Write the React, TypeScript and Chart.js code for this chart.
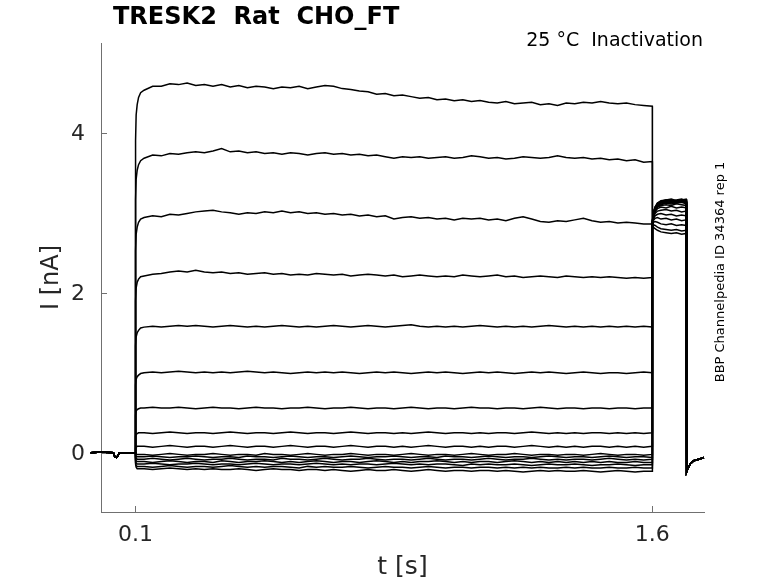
import { useEffect, useRef } from "react";
import { Chart, registerables } from "chart.js";

Chart.register(...registerables);

// holding potential, same for every sweep
const holdTimes = [-0.03, 0.0, 0.036, 0.04, 0.045, 0.05, 0.053, 0.1];
const holdCurrent = [0.0, 0.01, 0.0, -0.05, -0.06, -0.03, 0.0, 0.0];

// conditioning pulse
const pulseTimes = [
  0.1003, 0.102, 0.105, 0.109, 0.115,
  0.125, 0.15, 0.175, 0.2, 0.225, 0.25, 0.275, 0.3, 0.325, 0.35,
  0.375, 0.4, 0.425, 0.45, 0.475, 0.5, 0.525, 0.55, 0.575, 0.6,
  0.625, 0.65, 0.675, 0.7, 0.725, 0.75, 0.775, 0.8, 0.825, 0.85,
  0.875, 0.9, 0.925, 0.95, 0.975, 1.0, 1.025, 1.05, 1.075, 1.1,
  1.125, 1.15, 1.175, 1.2, 1.225, 1.25, 1.275, 1.3, 1.325, 1.35,
  1.375, 1.4, 1.425, 1.45, 1.475, 1.5, 1.525, 1.55, 1.575, 1.6,
];

const pulseCurrents = [
  [3.90, 4.22, 4.35, 4.44, 4.50,
    4.53, 4.58, 4.58, 4.61, 4.60, 4.62, 4.59, 4.60, 4.58, 4.60,
    4.57, 4.59, 4.56, 4.58, 4.57, 4.55, 4.57, 4.56, 4.58, 4.55,
    4.57, 4.59, 4.58, 4.55, 4.54, 4.52, 4.51, 4.48, 4.49, 4.46,
    4.47, 4.45, 4.43, 4.44, 4.41, 4.42, 4.40, 4.41, 4.39, 4.40,
    4.38, 4.37, 4.39, 4.36, 4.37, 4.38, 4.35, 4.36, 4.34, 4.37,
    4.36, 4.38, 4.37, 4.39, 4.37, 4.36, 4.37, 4.35, 4.34, 4.33],
  [3.16, 3.42, 3.53, 3.60, 3.65,
    3.68, 3.72, 3.71, 3.74, 3.73, 3.75, 3.76, 3.75, 3.77, 3.80,
    3.76, 3.77, 3.75, 3.76, 3.74, 3.75, 3.73, 3.75, 3.74, 3.72,
    3.74, 3.75, 3.73, 3.74, 3.72, 3.73, 3.71, 3.72, 3.70, 3.68,
    3.70, 3.69, 3.70, 3.68, 3.69, 3.70, 3.68, 3.69, 3.71, 3.70,
    3.68, 3.69, 3.67, 3.68, 3.70, 3.69, 3.68, 3.69, 3.71, 3.69,
    3.68, 3.69, 3.67, 3.68, 3.66, 3.67, 3.65, 3.66, 3.63, 3.64],
  [2.52, 2.73, 2.82, 2.88, 2.92,
    2.94, 2.96, 2.95, 2.98, 2.97, 2.99, 3.01, 3.02, 3.03, 3.01,
    3.00, 2.98, 3.00, 2.99, 3.01, 3.00, 3.02, 3.00, 3.01, 2.99,
    3.00, 2.98, 2.99, 2.97, 2.98, 2.96, 2.97, 2.95, 2.96, 2.92,
    2.94, 2.95, 2.93, 2.94, 2.92, 2.93, 2.91, 2.93, 2.92, 2.93,
    2.91, 2.92, 2.90, 2.93, 2.95, 2.92, 2.89, 2.88, 2.90, 2.89,
    2.91, 2.93, 2.90, 2.88, 2.89, 2.87, 2.88, 2.87, 2.86, 2.86],
  [1.90, 2.06, 2.13, 2.17, 2.20,
    2.21, 2.23, 2.24, 2.26, 2.27, 2.26, 2.28, 2.26, 2.25, 2.26,
    2.24, 2.25, 2.23, 2.24, 2.25, 2.23, 2.24, 2.22, 2.23, 2.22,
    2.24, 2.23, 2.22, 2.23, 2.21, 2.22, 2.23, 2.22, 2.21, 2.22,
    2.20, 2.21, 2.22, 2.21, 2.20, 2.21, 2.20, 2.22, 2.21, 2.20,
    2.21, 2.22, 2.20, 2.21, 2.19, 2.20, 2.21, 2.20, 2.19, 2.21,
    2.20, 2.19, 2.20, 2.19, 2.20, 2.19, 2.18, 2.19, 2.18, 2.19],
  [1.34, 1.45, 1.50, 1.53, 1.56,
    1.57, 1.58, 1.57, 1.58, 1.59, 1.58, 1.59, 1.58, 1.57, 1.58,
    1.59, 1.58, 1.57, 1.58, 1.57, 1.58, 1.59, 1.58, 1.57, 1.58,
    1.57, 1.58, 1.59, 1.58, 1.57, 1.58, 1.59, 1.58, 1.57, 1.58,
    1.59, 1.60, 1.58, 1.57, 1.58, 1.57, 1.58, 1.57, 1.58, 1.59,
    1.58, 1.57, 1.58, 1.57, 1.58, 1.57, 1.58, 1.59, 1.58, 1.57,
    1.58, 1.57, 1.58, 1.57, 1.58, 1.57, 1.58, 1.57, 1.58, 1.57],
  [0.85, 0.92, 0.95, 0.97, 0.99,
    1.00, 1.01, 1.00, 1.01, 1.02, 1.01, 1.00, 1.01, 1.00, 1.01,
    1.00, 1.01, 1.02, 1.01, 1.00, 1.01, 1.00, 0.99, 1.00, 1.01,
    1.00, 1.01, 1.00, 1.01, 1.00, 0.99, 1.00, 1.01, 1.00, 1.01,
    1.00, 0.99, 1.00, 1.01, 1.00, 1.01, 1.00, 0.99, 1.00, 1.01,
    1.00, 1.01, 1.00, 0.99, 1.00, 1.01, 1.00, 1.01, 1.00, 0.99,
    1.00, 1.01, 1.00, 0.99, 1.00, 1.00, 0.99, 1.00, 1.01, 1.00],
  [0.47, 0.52, 0.54, 0.55, 0.56,
    0.56, 0.57, 0.56, 0.56, 0.57, 0.56, 0.55, 0.56, 0.57, 0.56,
    0.56, 0.55, 0.56, 0.57, 0.56, 0.56, 0.55, 0.56, 0.56, 0.57,
    0.56, 0.55, 0.56, 0.56, 0.57, 0.56, 0.55, 0.56, 0.56, 0.55,
    0.56, 0.57, 0.56, 0.55, 0.56, 0.56, 0.55, 0.56, 0.57, 0.56,
    0.56, 0.55, 0.56, 0.56, 0.55, 0.56, 0.57, 0.56, 0.55, 0.56,
    0.56, 0.55, 0.56, 0.56, 0.55, 0.56, 0.56, 0.55, 0.56, 0.56],
  [0.21, 0.23, 0.24, 0.25, 0.25,
    0.25, 0.24, 0.25, 0.26, 0.25, 0.24, 0.25, 0.25, 0.24, 0.25,
    0.26, 0.25, 0.24, 0.25, 0.25, 0.24, 0.25, 0.26, 0.25, 0.24,
    0.25, 0.25, 0.24, 0.25, 0.26, 0.25, 0.24, 0.25, 0.25, 0.24,
    0.25, 0.24, 0.25, 0.26, 0.25, 0.24, 0.25, 0.25, 0.24, 0.25,
    0.24, 0.25, 0.25, 0.24, 0.25, 0.26, 0.25, 0.24, 0.25, 0.24,
    0.25, 0.24, 0.25, 0.25, 0.24, 0.25, 0.24, 0.25, 0.24, 0.25],
  [0.06, 0.07, 0.08, 0.08, 0.08,
    0.08, 0.07, 0.08, 0.09, 0.08, 0.07, 0.08, 0.08, 0.07, 0.08,
    0.09, 0.08, 0.07, 0.08, 0.08, 0.07, 0.08, 0.09, 0.08, 0.07,
    0.08, 0.08, 0.07, 0.08, 0.09, 0.08, 0.07, 0.08, 0.08, 0.07,
    0.08, 0.07, 0.08, 0.09, 0.08, 0.07, 0.08, 0.08, 0.07, 0.08,
    0.07, 0.08, 0.08, 0.07, 0.08, 0.09, 0.08, 0.07, 0.08, 0.07,
    0.08, 0.07, 0.08, 0.08, 0.07, 0.08, 0.07, 0.08, 0.07, 0.08],
  [-0.01, -0.02, -0.02, -0.02, -0.02,
    -0.02, -0.03, -0.02, -0.01, -0.02, -0.03, -0.02, -0.02, -0.01, -0.02,
    -0.03, -0.02, -0.02, -0.03, -0.01, -0.02, -0.02, -0.03, -0.02, -0.01,
    -0.02, -0.03, -0.02, -0.02, -0.01, -0.02, -0.03, -0.02, -0.02, -0.03,
    -0.02, -0.01, -0.02, -0.03, -0.02, -0.02, -0.03, -0.02, -0.01, -0.02,
    -0.03, -0.02, -0.02, -0.01, -0.02, -0.03, -0.02, -0.02, -0.03, -0.02,
    -0.02, -0.03, -0.02, -0.01, -0.02, -0.03, -0.02, -0.02, -0.03, -0.02],
  [-0.04, -0.05, -0.05, -0.05, -0.05,
    -0.05, -0.04, -0.05, -0.06, -0.05, -0.05, -0.04, -0.05, -0.06, -0.05,
    -0.05, -0.06, -0.04, -0.05, -0.05, -0.06, -0.05, -0.04, -0.05, -0.06,
    -0.05, -0.05, -0.06, -0.05, -0.04, -0.05, -0.06, -0.05, -0.05, -0.04,
    -0.05, -0.06, -0.05, -0.05, -0.06, -0.04, -0.05, -0.05, -0.06, -0.05,
    -0.04, -0.05, -0.06, -0.05, -0.05, -0.06, -0.05, -0.04, -0.05, -0.06,
    -0.05, -0.05, -0.06, -0.05, -0.04, -0.05, -0.06, -0.05, -0.05, -0.06],
  [-0.06, -0.07, -0.08, -0.08, -0.08,
    -0.08, -0.07, -0.08, -0.09, -0.08, -0.07, -0.08, -0.09, -0.08, -0.08,
    -0.07, -0.08, -0.09, -0.08, -0.08, -0.09, -0.07, -0.08, -0.08, -0.09,
    -0.08, -0.07, -0.08, -0.09, -0.08, -0.08, -0.07, -0.08, -0.09, -0.08,
    -0.08, -0.09, -0.08, -0.07, -0.08, -0.09, -0.08, -0.08, -0.09, -0.08,
    -0.07, -0.08, -0.09, -0.08, -0.08, -0.07, -0.08, -0.09, -0.08, -0.09,
    -0.08, -0.08, -0.09, -0.08, -0.07, -0.08, -0.09, -0.08, -0.09, -0.08],
  [-0.08, -0.10, -0.11, -0.11, -0.11,
    -0.11, -0.12, -0.11, -0.10, -0.11, -0.12, -0.11, -0.11, -0.12, -0.10,
    -0.11, -0.12, -0.11, -0.11, -0.10, -0.11, -0.12, -0.11, -0.12, -0.11,
    -0.10, -0.11, -0.12, -0.11, -0.11, -0.12, -0.11, -0.10, -0.11, -0.12,
    -0.11, -0.12, -0.11, -0.11, -0.10, -0.11, -0.12, -0.11, -0.12, -0.11,
    -0.11, -0.12, -0.11, -0.10, -0.11, -0.12, -0.11, -0.12, -0.11, -0.12,
    -0.11, -0.12, -0.11, -0.12, -0.11, -0.12, -0.12, -0.11, -0.12, -0.12],
  [-0.10, -0.13, -0.14, -0.14, -0.14,
    -0.14, -0.13, -0.14, -0.15, -0.14, -0.14, -0.13, -0.14, -0.15, -0.14,
    -0.14, -0.15, -0.14, -0.13, -0.14, -0.15, -0.14, -0.14, -0.15, -0.14,
    -0.13, -0.14, -0.15, -0.14, -0.15, -0.14, -0.14, -0.15, -0.14, -0.13,
    -0.14, -0.15, -0.14, -0.15, -0.14, -0.14, -0.15, -0.16, -0.14, -0.15,
    -0.14, -0.15, -0.15, -0.14, -0.15, -0.16, -0.15, -0.14, -0.15, -0.15,
    -0.14, -0.15, -0.16, -0.15, -0.15, -0.14, -0.15, -0.16, -0.15, -0.15],
  [-0.12, -0.16, -0.17, -0.17, -0.17,
    -0.17, -0.18, -0.17, -0.16, -0.17, -0.18, -0.17, -0.17, -0.18, -0.17,
    -0.16, -0.17, -0.18, -0.17, -0.18, -0.17, -0.17, -0.18, -0.19, -0.17,
    -0.18, -0.17, -0.18, -0.18, -0.17, -0.18, -0.19, -0.18, -0.17, -0.18,
    -0.18, -0.19, -0.18, -0.17, -0.18, -0.19, -0.18, -0.18, -0.19, -0.18,
    -0.18, -0.19, -0.18, -0.19, -0.18, -0.19, -0.18, -0.19, -0.19, -0.18,
    -0.19, -0.18, -0.19, -0.19, -0.18, -0.19, -0.19, -0.18, -0.19, -0.19],
  [-0.14, -0.18, -0.20, -0.20, -0.20,
    -0.20, -0.21, -0.20, -0.19, -0.20, -0.21, -0.20, -0.21, -0.20, -0.21,
    -0.21, -0.20, -0.21, -0.22, -0.21, -0.20, -0.21, -0.21, -0.22, -0.21,
    -0.21, -0.22, -0.21, -0.22, -0.23, -0.22, -0.21, -0.22, -0.22, -0.21,
    -0.22, -0.23, -0.22, -0.21, -0.22, -0.23, -0.22, -0.22, -0.23, -0.22,
    -0.22, -0.23, -0.22, -0.23, -0.24, -0.23, -0.22, -0.23, -0.22, -0.23,
    -0.23, -0.22, -0.23, -0.24, -0.23, -0.22, -0.23, -0.24, -0.23, -0.23],
];

// test pulse (tail currents)
const tailTimes = [1.6003, 1.603, 1.608, 1.615, 1.625, 1.64, 1.655, 1.67, 1.685, 1.698];
const tailCurrents = [
  [2.80, 2.82, 2.80, 2.78, 2.76, 2.75, 2.74, 2.75, 2.73, 2.74],
  [2.82, 2.85, 2.84, 2.82, 2.80, 2.79, 2.78, 2.79, 2.77, 2.78],
  [2.83, 2.88, 2.89, 2.88, 2.86, 2.85, 2.86, 2.84, 2.85, 2.84],
  [2.84, 2.90, 2.93, 2.94, 2.92, 2.93, 2.91, 2.92, 2.90, 2.91],
  [2.85, 2.92, 2.96, 2.98, 2.99, 2.97, 2.98, 2.96, 2.97, 2.96],
  [2.86, 2.94, 2.99, 3.02, 3.03, 3.04, 3.02, 3.03, 3.01, 3.02],
  [2.86, 2.95, 3.01, 3.05, 3.07, 3.06, 3.08, 3.06, 3.07, 3.06],
  [2.87, 2.96, 3.02, 3.07, 3.09, 3.10, 3.09, 3.11, 3.10, 3.09],
  [2.87, 2.97, 3.03, 3.08, 3.10, 3.12, 3.11, 3.12, 3.13, 3.11],
  [2.88, 2.98, 3.04, 3.09, 3.11, 3.12, 3.13, 3.12, 3.14, 3.13],
  [2.88, 2.98, 3.05, 3.10, 3.12, 3.13, 3.12, 3.14, 3.13, 3.14],
  [2.88, 2.99, 3.05, 3.10, 3.13, 3.14, 3.13, 3.15, 3.14, 3.13],
  [2.89, 2.99, 3.06, 3.11, 3.13, 3.15, 3.14, 3.13, 3.15, 3.14],
  [2.89, 3.00, 3.06, 3.11, 3.14, 3.15, 3.16, 3.14, 3.15, 3.16],
  [2.89, 3.00, 3.07, 3.12, 3.14, 3.16, 3.15, 3.16, 3.17, 3.15],
  [2.90, 3.00, 3.07, 3.12, 3.15, 3.16, 3.17, 3.15, 3.16, 3.17],
];

// back to holding, same for every sweep
const offTimes = [1.6995, 1.703, 1.71, 1.72, 1.735, 1.75];
const offCurrent = [-0.24, -0.2, -0.14, -0.1, -0.08, -0.06];

const xTicks = [0.1, 1.6];
const yTicks = [0, 2, 4];

const AXIS_GREY = "#707070";
const FONT = "DejaVu Sans";

function toPoints(times: number[], values: number[]) {
  return times.map((t, i) => ({ x: t, y: values[i] }));
}

const decor = {
  id: "decor",
  beforeDatasetsDraw(chart: Chart) {
    const { ctx, chartArea } = chart;
    const xs = chart.scales.x;
    const ys = chart.scales.y;
    ctx.save();
    ctx.strokeStyle = AXIS_GREY;
    ctx.lineWidth = 1;
    ctx.beginPath();
    xTicks.forEach((v) => {
      const px = Math.round(xs.getPixelForValue(v)) + 0.5;
      ctx.moveTo(px, chartArea.bottom);
      ctx.lineTo(px, chartArea.bottom - 6);
    });
    yTicks.forEach((v) => {
      const py = Math.round(ys.getPixelForValue(v)) + 0.5;
      ctx.moveTo(chartArea.left, py);
      ctx.lineTo(chartArea.left + 6, py);
    });
    ctx.stroke();
    ctx.restore();
  },
  afterDraw(chart: Chart) {
    const { ctx } = chart;
    ctx.save();
    ctx.fillStyle = "#000";
    ctx.textBaseline = "middle";

    ctx.font = `bold 24px "${FONT}"`;
    ctx.textAlign = "left";
    ctx.fillText("TRESK2  Rat  CHO_FT", 113, 18);

    ctx.font = `19px "${FONT}"`;
    ctx.textAlign = "right";
    ctx.fillText("25 °C  Inactivation", 703, 41);

    ctx.font = `13px "${FONT}"`;
    ctx.textAlign = "center";
    ctx.translate(721, 272);
    ctx.rotate(-Math.PI / 2);
    ctx.fillText("BBP Channelpedia ID 34364 rep 1", 0, 0);
    ctx.restore();
  },
};

export default function App() {
  const canvasRef = useRef<HTMLCanvasElement>(null);

  useEffect(() => {
    document.body.style.margin = "0";
    const canvas = canvasRef.current;
    if (!canvas) return;

    const datasets = pulseCurrents.map((pulse, i) => ({
      label: `sweep ${i + 1}`,
      data: [
        ...toPoints(holdTimes, holdCurrent),
        ...toPoints(pulseTimes, pulse),
        ...toPoints(tailTimes, tailCurrents[i]),
        ...toPoints(offTimes, offCurrent),
      ],
      borderColor: "#000",
      borderWidth: 1.5,
      pointRadius: 0,
      tension: 0,
      clip: false as const,
    }));

    const chart = new Chart(canvas, {
      type: "line",
      data: { datasets },
      plugins: [decor],
      options: {
        animation: false,
        responsive: false,
        devicePixelRatio: 1,
        parsing: false,
        layout: { padding: { top: 43, right: 74, left: 0, bottom: 0 } },
        plugins: {
          legend: { display: false },
          title: { display: false },
          tooltip: { enabled: false },
        },
        scales: {
          x: {
            type: "linear",
            min: 0,
            max: 1.75,
            afterBuildTicks: (s) => {
              s.ticks = xTicks.map((v) => ({ value: v }));
            },
            afterFit: (s) => {
              s.height = 71;
            },
            grid: { display: false, drawTicks: false },
            border: { display: true, color: AXIS_GREY, width: 1 },
            ticks: {
              color: "#262626",
              font: { family: FONT, size: 22 },
              padding: 10,
              maxRotation: 0,
              callback: (v) => String(v),
            },
            title: {
              display: true,
              text: "t [s]",
              color: "#262626",
              font: { family: FONT, size: 25 },
              padding: { top: 0, bottom: 1 },
            },
          },
          y: {
            type: "linear",
            min: -0.74,
            max: 5.12,
            afterBuildTicks: (s) => {
              s.ticks = yTicks.map((v) => ({ value: v }));
            },
            afterFit: (s) => {
              s.width = 101;
            },
            grid: { display: false, drawTicks: false },
            border: { display: true, color: AXIS_GREY, width: 1 },
            ticks: {
              color: "#262626",
              font: { family: FONT, size: 22 },
              padding: 16,
              labelOffset: 2,
              callback: (v) => String(v),
            },
            title: {
              display: true,
              text: "I [nA]",
              color: "#262626",
              font: { family: FONT, size: 24 },
              padding: { top: 37, bottom: 0 },
            },
          },
        },
      },
    });

    return () => {
      chart.destroy();
    };
  }, []);

  return (
    <canvas
      ref={canvasRef}
      width={778}
      height={583}
      style={{ display: "block", width: 778, height: 583 }}
    />
  );
}
